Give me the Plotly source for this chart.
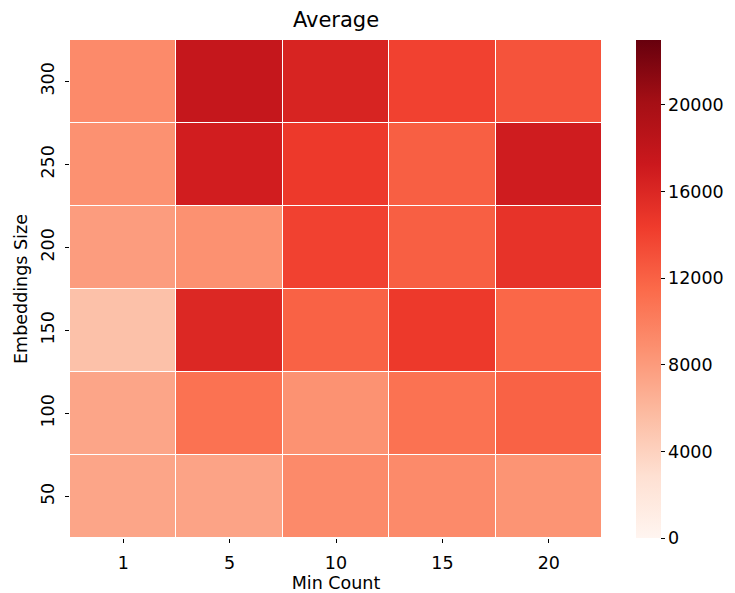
import plotly.graph_objects as go

min_count = ["1", "5", "10", "15", "20"]
emb_size = ["50", "100", "150", "200", "250", "300"]
# rows: emb_size order (50 -> 300), cols: min_count
avg_50 = [7300, 7400, 9200, 9200, 8500]
avg_100 = [7300, 10900, 8600, 10900, 12000]
avg_150 = [5300, 15900, 12000, 14500, 11700]
avg_200 = [7900, 8700, 14000, 12200, 15000]
avg_250 = [8700, 16800, 14500, 12200, 16900]
avg_300 = [9200, 17700, 16300, 14000, 12900]
z = [avg_50, avg_100, avg_150, avg_200, avg_250, avg_300]

cbar_ticks = [0, 4000, 8000, 12000, 16000, 20000]

reds = ["#fff5f0", "#fee0d2", "#fcbba1", "#fc9272", "#fb6a4a",
        "#ef3b2c", "#cb181d", "#a50f15", "#67000d"]
colorscale = [[i / (len(reds) - 1), c] for i, c in enumerate(reds)]

FS = 17.5

fig = go.Figure(go.Heatmap(
    x=min_count, y=emb_size, z=z,
    colorscale=colorscale, zmin=0, zmax=23000,
    xgap=1, ygap=1,
    colorbar=dict(
        x=1.064, xanchor="left", xpad=0, y=0, yanchor="bottom", len=1,
        ypad=0, thickness=25, outlinewidth=0,
        tickvals=cbar_ticks, tickprefix=" ", tickformat="d",
        ticks="outside", ticklen=4, tickcolor="black",
        tickfont=dict(size=FS, color="black"),
    ),
))

fig.update_layout(
    width=727, height=585,
    margin=dict(l=62, r=133, t=32, b=55, autoexpand=False),
    paper_bgcolor="white", plot_bgcolor="white",
    font=dict(family="DejaVu Sans", size=FS, color="black"),
    title=dict(text="Average", x=0.5, xref="paper", xanchor="center",
               yref="container", y=1 - 12 / 585, yanchor="middle",
               font=dict(size=21)),
)
fig.update_xaxes(title=dict(text="Min Count", standoff=5, font=dict(size=FS)),
                 tickfont=dict(size=FS), ticks="outside", ticklabelstandoff=5,
                 ticklen=4, tickcolor="black", showgrid=False, zeroline=False,
                 showline=False, automargin=False)
fig.update_yaxes(title=dict(text="Embeddings Size", standoff=5, font=dict(size=FS)),
                 tickfont=dict(size=FS), ticks="outside", ticklabelstandoff=4,
                 ticklen=4, tickcolor="black", tickangle=-90, showgrid=False,
                 zeroline=False, showline=False, automargin=False)

fig.write_html("out.html")
